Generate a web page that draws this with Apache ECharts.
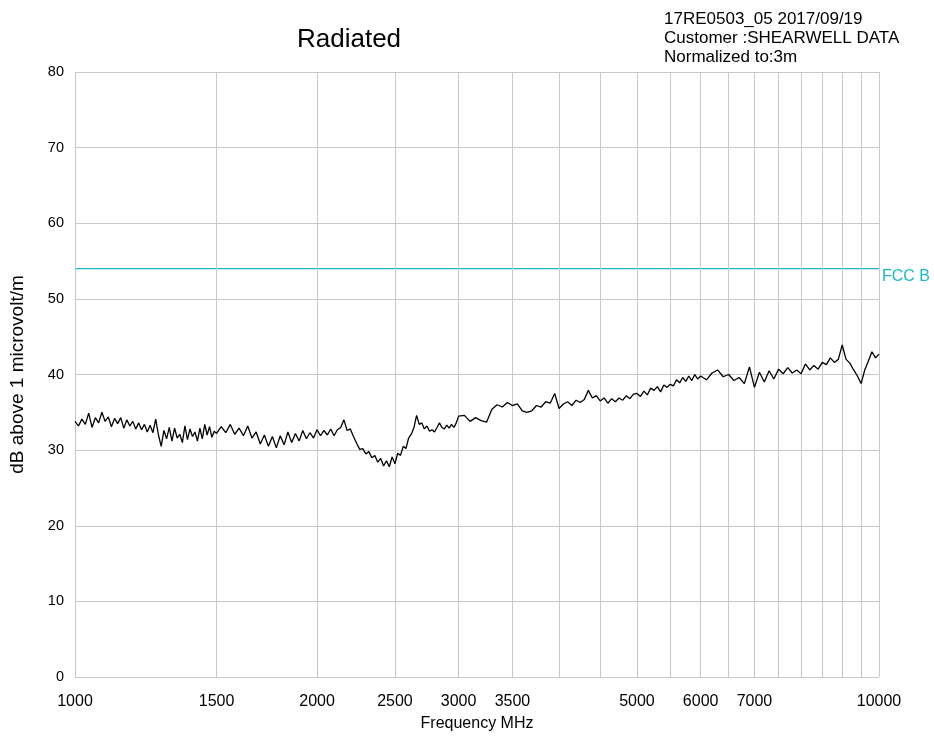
<!DOCTYPE html>
<html>
<head>
<meta charset="utf-8">
<script src="https://cdn.jsdelivr.net/npm/echarts@6/dist/echarts.min.js"></script>
<style>
  html, body { margin: 0; padding: 0; background: #fff; }
  #main { width: 934px; height: 736px; }
</style>
</head>
<body>
<div id="main"></div>
<script>
// 频率 (MHz) 与 场强 (dBuV/m)
var freq = [
  1000,1010,1020,1030,1040,1050,1060,1070,1080,1090,1100,1110,1120,1130,1140,1150,1160,1170,1180,1190,
  1200,1210,1220,1230,1240,1250,1260,1270,1280,1290,1300,1310,1320,1330,1340,1350,1360,1370,1380,1390,
  1400,1410,1420,1430,1440,1450,1460,1470,1480,1490,1500,
  1520,1540,1560,1580,1600,1620,1640,1660,1680,1700,1720,1740,1760,1780,1800,1820,1840,1860,1880,1900,
  1920,1940,1960,1980,2000,2020,2040,2060,2080,2100,2120,2140,2160,2180,2200,2220,2240,2260,2280,2300,
  2320,2340,2360,2380,2400,2420,2440,2460,2480,2500,2520,2540,2560,2580,2600,2620,2640,2660,2680,2700,
  2720,2740,2760,2780,2800,2820,2840,2860,2880,2900,2920,2940,2960,2980,3000,
  3050,3100,3150,3200,3250,3300,3350,3400,3450,3500,3550,3600,3650,3700,3750,3800,3850,3900,3950,4000,
  4050,4100,4150,4200,4250,4300,4350,4400,4450,4500,4550,4600,4650,4700,4750,4800,4850,4900,4950,5000,
  5050,5100,5150,5200,5250,5300,5350,5400,5450,5500,5550,5600,5650,5700,5750,5800,5850,5900,5950,6000,
  6100,6200,6300,6400,6500,6600,6700,6800,6900,7000,7100,7200,7300,7400,7500,7600,7700,7800,7900,8000,
  8100,8200,8300,8400,8500,8600,8700,8800,8900,9000,9100,9200,9300,9400,9500,9600,9700,9800,9900,10000
];
var level = [
  33.8,33.2,34.1,33.4,34.9,33.0,34.3,33.6,35.0,33.8,34.4,33.1,34.2,33.5,34.3,32.9,34.0,33.2,33.8,32.8,
  33.6,32.7,33.4,32.4,33.3,32.3,34.1,32.0,30.5,32.6,31.5,33.0,31.2,32.9,31.6,32.1,31.0,33.2,31.4,32.8,
  31.8,32.4,31.2,32.9,31.5,33.4,32.0,33.1,31.7,32.5,32.2,
  33.1,32.3,33.4,32.1,32.9,31.9,33.2,31.6,32.4,30.8,32.0,30.5,31.8,30.3,31.9,30.7,32.4,31.0,32.2,31.2,
  32.6,31.5,32.3,31.6,32.7,31.9,32.6,32.0,32.8,31.9,32.7,33.0,34.0,32.6,32.8,31.8,30.9,30.1,30.2,29.5,
  29.8,29.0,29.3,28.4,28.9,27.9,28.6,27.8,29.1,28.2,29.6,29.3,30.5,30.2,31.6,32.1,33.0,34.6,33.4,33.6,
  32.8,33.2,32.5,32.7,32.4,33.0,33.6,33.0,32.8,33.3,32.9,33.4,33.0,33.6,34.5,
  34.6,33.8,34.3,33.9,33.7,35.4,36.0,35.7,36.3,35.9,36.1,35.2,35.0,35.2,35.9,35.7,36.4,36.2,37.5,35.5,
  36.1,36.4,35.9,36.6,36.3,36.7,37.9,36.9,37.2,36.5,36.9,36.2,36.8,36.4,36.9,36.6,37.2,36.8,37.4,37.5,
  37.1,37.8,37.3,38.2,37.9,38.4,37.7,38.6,38.3,38.7,38.5,39.3,38.9,39.6,39.1,39.8,39.2,40.0,39.4,39.8,
  39.3,40.2,40.6,39.7,40.0,39.2,39.6,38.8,41.0,38.3,40.3,39.0,40.5,39.4,40.7,40.1,40.9,40.2,40.6,40.1,
  41.4,40.6,41.2,40.7,41.6,41.3,42.2,41.6,42.0,43.9,42.0,41.5,40.6,39.8,38.8,40.6,41.8,43.0,42.2,42.7
];
// 网格线与刻度标签
var gridFreqs = [1000,1500,2000,2500,3000,3500,4000,4500,5000,5500,6000,6500,7000,7500,8000,8500,9000,9500,10000];
var labeledFreqs = [1000,1500,2000,2500,3000,3500,5000,6000,7000,10000];
// 限值线
var limitName = 'FCC B';
var limitFreqs = [1000, 10000];
var limitLevels = [54, 54];

var font = 'Liberation Sans, Arial, sans-serif';
var cyan = '#1ab8c6';
var myChart = echarts.init(document.getElementById('main'));

var traceData = [];
for (var i = 0; i < freq.length; i++) {
  traceData.push([freq[i], level[i]]);
}
var limitData = [];
for (var j = 0; j < limitFreqs.length; j++) {
  limitData.push([limitFreqs[j], limitLevels[j]]);
}

var gridLines = gridFreqs.map(function (f) {
  return {
    xAxis: f,
    label: {
      show: labeledFreqs.indexOf(f) >= 0,
      position: 'start',
      distance: 17,
      formatter: String(f),
      color: '#000',
      fontSize: 16,
      fontFamily: font
    }
  };
});

var option = {
  animation: false,
  backgroundColor: '#fff',
  textStyle: { fontFamily: font },
  title: [
    {
      text: 'Radiated',
      left: 292,
      top: 22,
      textStyle: { fontSize: 26, fontWeight: 'normal', color: '#000', fontFamily: font }
    },
    {
      text: '17RE0503_05 2017/09/19\nCustomer :SHEARWELL DATA\nNormalized to:3m',
      left: 659,
      top: 5,
      textStyle: { fontSize: 17, fontWeight: 'normal', color: '#000', lineHeight: 19, fontFamily: font }
    }
  ],
  grid: { left: 75, right: 55, top: 72, bottom: 59, containLabel: false, outerBoundsMode: 'none' },
  xAxis: {
    type: 'log',
    logBase: 10,
    min: 1000,
    max: 10000,
    name: 'Frequency MHz',
    nameLocation: 'middle',
    nameGap: 39,
    nameTextStyle: { fontSize: 16, color: '#000', fontFamily: font },
    axisLine: { show: false },
    axisTick: { show: false },
    axisLabel: { show: false },
    splitLine: { show: false }
  },
  yAxis: {
    type: 'value',
    min: 0,
    max: 80,
    interval: 10,
    name: 'dB above 1 microvolt/m',
    nameLocation: 'middle',
    nameGap: 48,
    nameTextStyle: { fontSize: 19, color: '#000', fontFamily: font },
    axisLine: { show: false },
    axisTick: { show: false },
    axisLabel: { color: '#000', fontSize: 14.5, margin: 11, fontFamily: font },
    splitLine: { lineStyle: { color: '#c8c8c8', width: 1 } }
  },
  series: [
    {
      name: 'grid',
      type: 'line',
      data: [],
      silent: true,
      markLine: {
        silent: true,
        symbol: 'none',
        animation: false,
        lineStyle: { color: '#c8c8c8', width: 1, type: 'solid' },
        data: gridLines
      }
    },
    {
      name: limitName,
      type: 'line',
      data: limitData,
      silent: true,
      showSymbol: false,
      symbol: 'none',
      smooth: false,
      lineStyle: { color: cyan, width: 1.2 },
      itemStyle: { color: cyan },
      endLabel: {
        show: true,
        formatter: limitName,
        color: cyan,
        fontSize: 16,
        fontFamily: font,
        distance: 3,
        offset: [0, 8]
      },
      z: 4
    },
    {
      name: 'Radiated',
      type: 'line',
      data: traceData,
      showSymbol: false,
      symbol: 'none',
      smooth: false,
      lineStyle: { color: '#000', width: 1.3 },
      itemStyle: { color: '#000' },
      z: 5
    }
  ]
};

myChart.setOption(option);
</script>
</body>
</html>
